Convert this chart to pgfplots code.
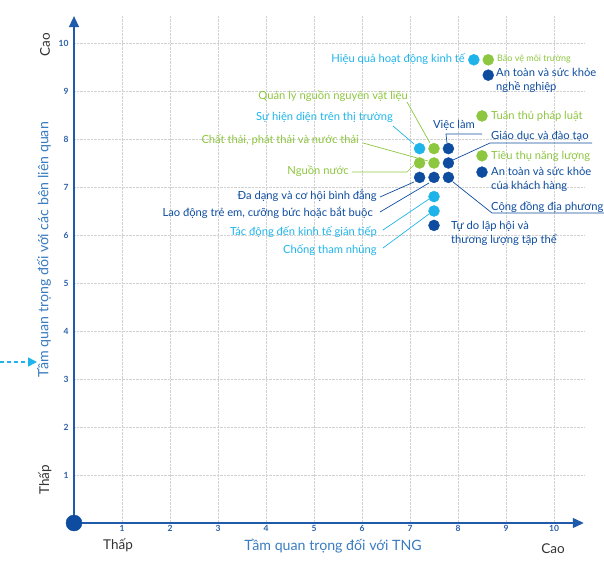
\documentclass[border=0pt]{standalone}
\usepackage{pgfplots}
\pgfplotsset{compat=1.18}
\usepackage{fontspec}
\setmainfont{Lato}
\usetikzlibrary{arrows.meta}
\definecolor{cyanb}{HTML}{1EB4EA}
\definecolor{greenb}{HTML}{8DC63F}
\definecolor{darkb}{HTML}{0D4C9F}
\definecolor{axisb}{HTML}{1F5BAA}
\definecolor{textb}{HTML}{2A5EA8}
\definecolor{titleb}{HTML}{3A7CC0}
\definecolor{blk}{HTML}{333333}
\begin{document}
\begin{tikzpicture}[x=1pt,y=1pt]
\useasboundingbox (-74,-39) rectangle (530,523);
\begin{axis}[
  at={(0,0)}, anchor=south west,
  x=48pt, y=48pt,
  xmin=0, xmax=10.62, ymin=0, ymax=10.56,
  axis lines=left,
  axis line style={axisb, line width=1.3pt},
  x axis line style={-{Triangle[length=11pt,width=10pt]}},
  y axis line style={-{Triangle[length=11pt,width=10pt]}},
  xtick={1,...,10}, ytick={1,...,10},
  major tick length=0pt,
  grid=major,
  grid style={densely dotted, black!18, line width=0.5pt},
  /pgf/number format/assume math mode=true,
  tick label style={font=\fontsize{8.5}{9}\selectfont\bfseries, text=textb},
  xticklabel style={yshift=1pt},
  yticklabel style={xshift=-2pt},
  clip=false,
]
\addplot[only marks, mark=*, mark size=5.5pt, color=cyanb] coordinates {
  (8.33,9.65) (7.2,7.8) (7.5,6.8) (7.5,6.5)
};
\addplot[only marks, mark=*, mark size=5.5pt, color=greenb] coordinates {
  (8.63,9.65) (8.5,8.48) (8.5,7.65) (7.5,7.8) (7.2,7.5) (7.5,7.5)
};
\addplot[only marks, mark=*, mark size=5.5pt, color=darkb] coordinates {
  (8.63,9.33) (8.5,7.31) (7.8,7.8) (7.8,7.5) (7.2,7.2) (7.5,7.2) (7.8,7.2) (7.5,6.2)
};
\addplot[only marks, mark=*, mark size=8pt, color=darkb] coordinates {(0,0)};
\end{axis}
\begin{scope}[x=1pt,y=-1pt,shift={(-74pt,523pt)},
  lab/.style={inner sep=0pt, font=\fontsize{11.2}{14}\selectfont},
  ld/.style={line width=0.7pt}]
% leader lines
\draw[ld,cyanb] (393,126)--(414,144);
\draw[ld,greenb] (407,102)--(430,143);
\draw[ld,darkb] (482,134)--(446,134)--(447,143);
\draw[ld,darkb] (592,143)--(490,143)--(453,160);
\draw[ld,darkb] (604,213)--(492,213)--(453,182);
\draw[ld,greenb] (363,143)--(428,161);
\draw[ld,greenb] (352,172)--(407,172)--(414,165);
\draw[ld,darkb] (380,197)--(414,182);
\draw[ld,darkb] (380,212)--(429,183);
\draw[ld,cyanb] (383,230)--(429,199);
\draw[ld,cyanb] (383,248)--(429,214);
% labels
\node[lab,anchor=east,text=cyanb] at (465,59) {Hiệu quả hoạt động kinh tế};
\node[lab,anchor=west,text=greenb,font=\fontsize{9}{10}\selectfont] at (497,59) {Bảo vệ môi trường};
\node[lab,anchor=west,text=darkb,align=left] at (496,80) {An toàn và sức khỏe\\nghề nghiệp};
\node[lab,anchor=east,text=greenb] at (408,96) {Quản lý nguồn nguyên vật liệu};
\node[lab,anchor=east,text=cyanb] at (393,117) {Sự hiện diện trên thị trường};
\node[lab,anchor=center,text=darkb] at (454,125) {Việc làm};
\node[lab,anchor=west,text=greenb] at (491,116) {Tuân thủ pháp luật};
\node[lab,anchor=west,text=darkb] at (491,136) {Giáo dục và đào tạo};
\node[lab,anchor=west,text=greenb] at (491,156) {Tiêu thụ năng lượng};
\node[lab,anchor=west,text=darkb,align=left] at (491,179) {An toàn và sức khỏe\\của khách hàng};
\node[lab,anchor=west,text=darkb] at (491,207) {Cộng đồng địa phương};
\node[lab,anchor=west,text=darkb,align=left] at (451,233) {Tự do lập hội và\\thương lượng tập thể};
\node[lab,anchor=east,text=greenb] at (359,140) {Chất thải, phát thải và nước thải};
\node[lab,anchor=east,text=greenb] at (349,171) {Nguồn nước};
\node[lab,anchor=east,text=darkb] at (377,196) {Đa dạng và cơ hội bình đẳng};
\node[lab,anchor=east,text=darkb] at (373,213) {Lao động trẻ em, cưỡng bức hoặc bắt buộc};
\node[lab,anchor=east,text=cyanb] at (377,232) {Tác động đến kinh tế gián tiếp};
\node[lab,anchor=east,text=cyanb] at (377,250) {Chống tham nhũng};
% axis titles
\node[inner sep=0pt,text=titleb,font=\fontsize{14.2}{16}\selectfont] at (333,546) {Tầm quan trọng đối với TNG};
\node[inner sep=0pt,text=titleb,font=\fontsize{14.2}{16}\selectfont,rotate=90] at (44,250) {Tầm quan trọng đối với các bên liên quan};
\node[inner sep=0pt,text=blk,font=\fontsize{13.5}{15}\selectfont] at (118,545) {Thấp};
\node[inner sep=0pt,text=blk,font=\fontsize{13.5}{15}\selectfont] at (553,549) {Cao};
\node[inner sep=0pt,text=blk,font=\fontsize{13.5}{15}\selectfont,rotate=90] at (45,45) {Cao};
\node[inner sep=0pt,text=blk,font=\fontsize{13.5}{15}\selectfont,rotate=90] at (45,480) {Thấp};
\draw[cyanb, line width=1.4pt, dash pattern=on 4pt off 3pt, -{Triangle[length=9pt,width=9pt]}] (0,362)--(37,362);
\end{scope}
\end{tikzpicture}
\end{document}
